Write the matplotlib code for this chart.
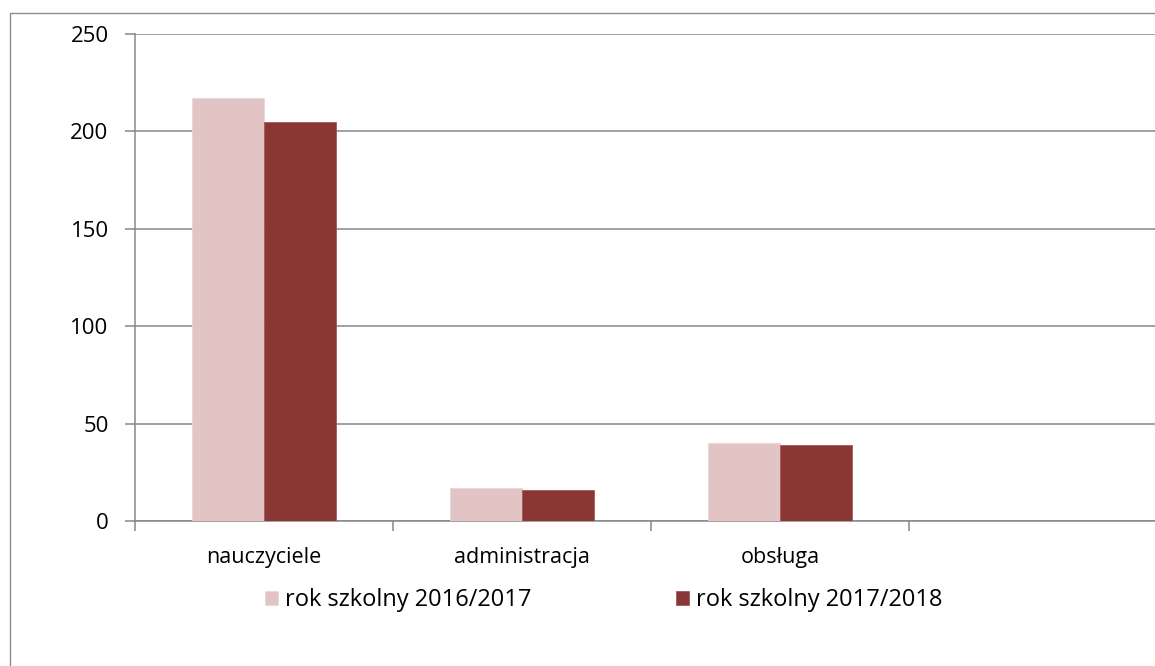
import matplotlib.pyplot as plt
import matplotlib.patches as mpatches
import numpy as np

categories = ["nauczyciele", "administracja", "obsługa", ""]
series_names = ["rok szkolny 2016/2017", "rok szkolny 2017/2018"]
values_2016 = [217, 17, 40]
values_2017 = [205, 16, 39]
yticks = [0, 50, 100, 150, 200, 250]

plt.rcParams['font.family'] = ['Open Sans', 'DejaVu Sans']
light = "#E2C4C5"
dark = "#893634"
grid_col = "#878787"
fs = 15.5

fig = plt.figure(figsize=(11.55, 6.66), dpi=100)
# outer chart frame, right and bottom edges fall outside the picture
fig.patches.append(mpatches.Rectangle((10 / 1155, -0.1), 1.2, 1 - 13 / 666 + 0.1,
                                      transform=fig.transFigure, fill=False,
                                      edgecolor="#8c8c8c", linewidth=1.0))
ax = fig.add_axes([135 / 1155, 1 - 521 / 666, 1032 / 1155, 487 / 666])

x = np.arange(len(values_2016))
w = 0.28
ax.bar(x - w / 2, values_2016, w, color=light, edgecolor="#ecd6d6", linewidth=0.6,
       label=series_names[0], zorder=3)
ax.bar(x + w / 2, values_2017, w, color=dark, edgecolor="#a05a58", linewidth=0.6,
       label=series_names[1], zorder=3)

ax.set_xlim(-0.5, 3.5)
ax.set_ylim(0, 250)
ax.set_yticks(yticks)
ax.yaxis.grid(True, color=grid_col, linewidth=1.1, zorder=0)
ax.tick_params(axis="y", length=7, width=1.1, color=grid_col, pad=12, labelsize=16)

ax.set_xticks(range(len(categories)))
ax.set_xticklabels(categories)
ax.set_xticks(np.arange(-0.5, 4, 1), minor=True)
ax.tick_params(axis="x", which="major", length=0, pad=19, labelsize=fs)
ax.tick_params(axis="x", which="minor", length=7, width=1.1, color=grid_col)

for s in ["top", "right"]:
    ax.spines[s].set_visible(False)
for s in ["left", "bottom"]:
    ax.spines[s].set_color(grid_col)
    ax.spines[s].set_linewidth(1.1)

ax.legend(loc="center", bbox_to_anchor=(604 / 1155, 1 - 600 / 666),
          bbox_transform=fig.transFigure, ncol=2, frameon=False,
          fontsize=17, handlelength=0.55, handleheight=0.55,
          handletextpad=0.3, columnspacing=6.1)

fig.savefig("out.png", dpi=100)
